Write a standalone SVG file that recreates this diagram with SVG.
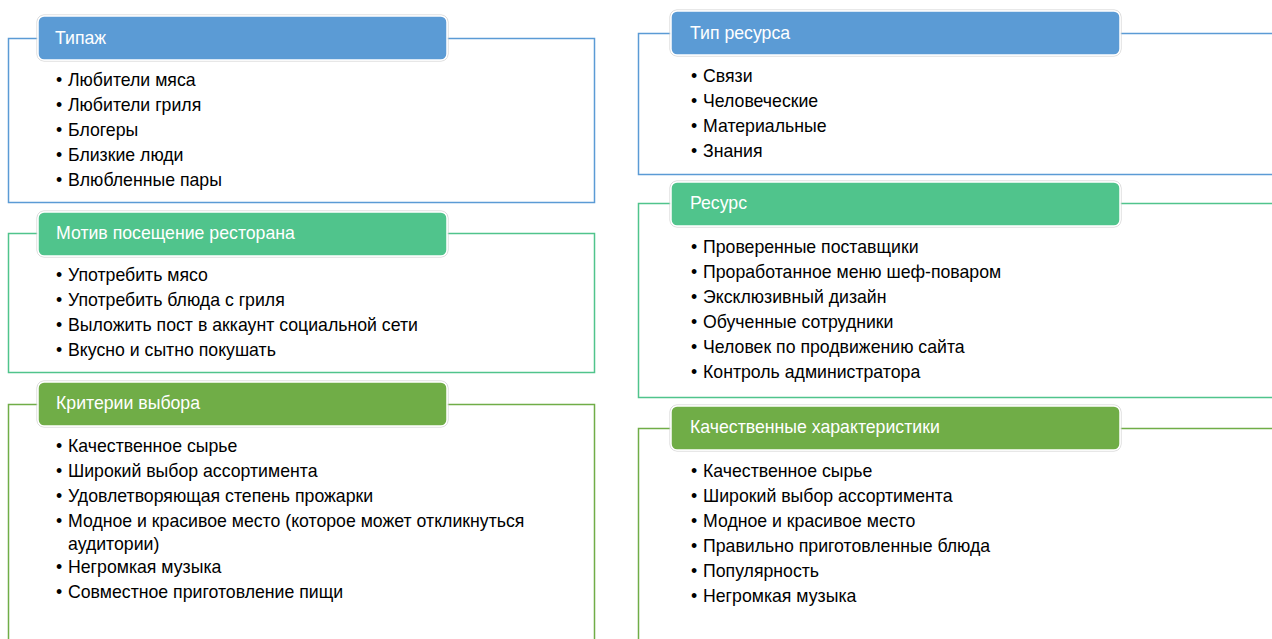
<svg xmlns="http://www.w3.org/2000/svg" width="1272" height="639" viewBox="0 0 1272 639">
<style>
.bg{fill:#ffffff}
.frame{fill:#ffffff;stroke-width:1.5}
.blue{stroke:#5b9bd5}
.teal{stroke:#50c48c}
.green{stroke:#70ad47}
.hshadow{fill:none;stroke:#d0d0d0;stroke-width:1}
.hdr{stroke:#ffffff;stroke-width:1.5}
.hblue{fill:#5b9bd5}
.hteal{fill:#50c48c}
.hgreen{fill:#70ad47}
.htext{font-family:"Liberation Sans",Arial,sans-serif;font-size:17.7px;fill:#ffffff}
.item{font-family:"Liberation Sans",Arial,sans-serif;font-size:17.7px;fill:#000000}
</style>
<rect class="bg" x="0" y="0" width="1272" height="639"/>
<g id="connectors"></g>

<g id="tipazh">
<rect class="frame blue" x="8.5" y="38.5" width="586" height="164"/>
<rect class="hshadow" x="37" y="15" width="411" height="46" rx="7"/>
<rect class="hdr hblue" x="38" y="16" width="409" height="44" rx="6"/>
<text class="htext" x="55" y="44">Типаж</text>
<text class="item" x="56" y="86">•</text><text class="item" x="68" y="86">Любители мяса</text>
<text class="item" x="56" y="111">•</text><text class="item" x="68" y="111">Любители гриля</text>
<text class="item" x="56" y="136">•</text><text class="item" x="68" y="136">Блогеры</text>
<text class="item" x="56" y="161">•</text><text class="item" x="68" y="161">Близкие люди</text>
<text class="item" x="56" y="186">•</text><text class="item" x="68" y="186">Влюбленные пары</text>
</g>

<g id="motiv">
<rect class="frame teal" x="8.5" y="233.5" width="586" height="139"/>
<rect class="hshadow" x="37" y="211" width="411" height="46" rx="7"/>
<rect class="hdr hteal" x="38" y="212" width="409" height="44" rx="6"/>
<text class="htext" x="56" y="239">Мотив посещение ресторана</text>
<text class="item" x="56" y="281">•</text><text class="item" x="68" y="281">Употребить мясо</text>
<text class="item" x="56" y="306">•</text><text class="item" x="68" y="306">Употребить блюда с гриля</text>
<text class="item" x="56" y="331">•</text><text class="item" x="68" y="331">Выложить пост в аккаунт социальной сети</text>
<text class="item" x="56" y="356">•</text><text class="item" x="68" y="356">Вкусно и сытно покушать</text>
</g>

<g id="kriterii">
<path class="frame green" d="M8.5 650 V404.5 H594.5 V650" fill="#ffffff"/>
<rect class="hshadow" x="37" y="381" width="411" height="46" rx="7"/>
<rect class="hdr hgreen" x="38" y="382" width="409" height="44" rx="6"/>
<text class="htext" x="56" y="409">Критерии выбора</text>
<text class="item" x="56" y="452">•</text><text class="item" x="68" y="452">Качественное сырье</text>
<text class="item" x="56" y="477">•</text><text class="item" x="68" y="477">Широкий выбор ассортимента</text>
<text class="item" x="56" y="502">•</text><text class="item" x="68" y="502">Удовлетворяющая степень прожарки</text>
<text class="item" x="56" y="527">•</text><text class="item" x="68" y="527">Модное и красивое место (которое может откликнуться</text>
<text class="item" x="68" y="550">аудитории)</text>
<text class="item" x="56" y="573">•</text><text class="item" x="68" y="573">Негромкая музыка</text>
<text class="item" x="56" y="598">•</text><text class="item" x="68" y="598">Совместное приготовление пищи</text>
</g>

<g id="tip-resursa">
<path class="frame blue" d="M1280 33.5 H638.5 V174.5 H1280" fill="#ffffff"/>
<rect class="hshadow" x="670" y="10" width="451" height="46" rx="7"/>
<rect class="hdr hblue" x="671" y="11" width="449" height="44" rx="6"/>
<text class="htext" x="690" y="39">Тип ресурса</text>
<text class="item" x="691" y="82">•</text><text class="item" x="703" y="82">Связи</text>
<text class="item" x="691" y="107">•</text><text class="item" x="703" y="107">Человеческие</text>
<text class="item" x="691" y="132">•</text><text class="item" x="703" y="132">Материальные</text>
<text class="item" x="691" y="157">•</text><text class="item" x="703" y="157">Знания</text>
</g>

<g id="resurs">
<path class="frame teal" d="M1280 203.5 H638.5 V397.5 H1280" fill="#ffffff"/>
<rect class="hshadow" x="670" y="181" width="451" height="46" rx="7"/>
<rect class="hdr hteal" x="671" y="182" width="449" height="44" rx="6"/>
<text class="htext" x="690" y="209">Ресурс</text>
<text class="item" x="691" y="253">•</text><text class="item" x="703" y="253">Проверенные поставщики</text>
<text class="item" x="691" y="278">•</text><text class="item" x="703" y="278">Проработанное меню шеф-поваром</text>
<text class="item" x="691" y="303">•</text><text class="item" x="703" y="303">Эксклюзивный дизайн</text>
<text class="item" x="691" y="328">•</text><text class="item" x="703" y="328">Обученные сотрудники</text>
<text class="item" x="691" y="353">•</text><text class="item" x="703" y="353">Человек по продвижению сайта</text>
<text class="item" x="691" y="378">•</text><text class="item" x="703" y="378">Контроль администратора</text>
</g>

<g id="kachestvennye">
<path class="frame green" d="M1280 428.5 H638.5 V650" fill="#ffffff"/>
<rect class="hshadow" x="670" y="405" width="451" height="46" rx="7"/>
<rect class="hdr hgreen" x="671" y="406" width="449" height="44" rx="6"/>
<text class="htext" x="690" y="433">Качественные характеристики</text>
<text class="item" x="691" y="477">•</text><text class="item" x="703" y="477">Качественное сырье</text>
<text class="item" x="691" y="502">•</text><text class="item" x="703" y="502">Широкий выбор ассортимента</text>
<text class="item" x="691" y="527">•</text><text class="item" x="703" y="527">Модное и красивое место</text>
<text class="item" x="691" y="552">•</text><text class="item" x="703" y="552">Правильно приготовленные блюда</text>
<text class="item" x="691" y="577">•</text><text class="item" x="703" y="577">Популярность</text>
<text class="item" x="691" y="602">•</text><text class="item" x="703" y="602">Негромкая музыка</text>
</g>
</svg>
